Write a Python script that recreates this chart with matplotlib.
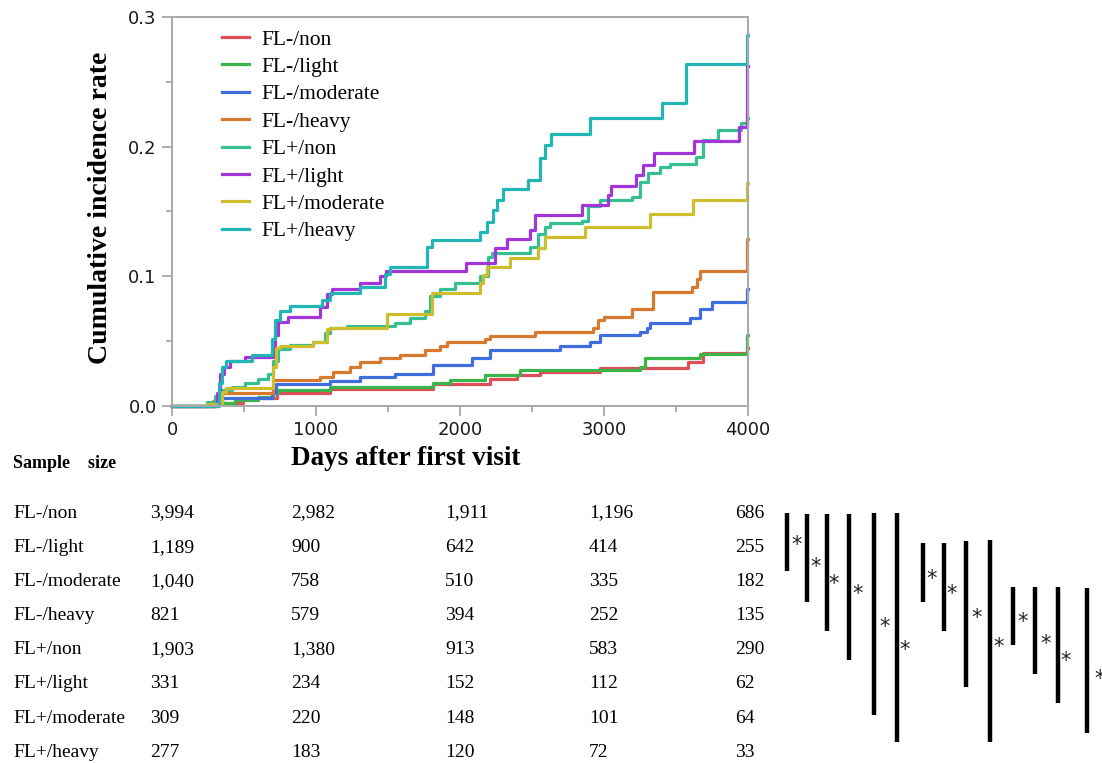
import matplotlib
matplotlib.use("Agg")
import matplotlib.pyplot as plt
from matplotlib.ticker import MultipleLocator, FormatStrFormatter

# groups (legend / table order)
groups = ["FL-/non", "FL-/light", "FL-/moderate", "FL-/heavy",
          "FL+/non", "FL+/light", "FL+/moderate", "FL+/heavy"]

# step curves: days where the curve steps, value after the step
fl_m_non_days = [0, 299, 493, 729, 1097, 1813, 2208, 2396, 2556, 2972, 3583, 3688, 3995]
fl_m_non_vals = [0, 0.002, 0.006, 0.010, 0.013, 0.017, 0.021, 0.024, 0.026, 0.029, 0.034, 0.041, 0.045]

fl_m_light_days = [0, 299, 438, 597, 701, 736, 1097, 1813, 1931, 2174, 2417, 3250, 3285, 3667, 3995]
fl_m_light_vals = [0, 0.002, 0.005, 0.007, 0.010, 0.012, 0.015, 0.018, 0.020, 0.024, 0.028, 0.030, 0.037, 0.040, 0.055]

fl_m_mod_days = [0, 299, 347, 694, 722, 1097, 1306, 1549, 1813, 2083, 2208, 2694, 2903, 2972,
                 3250, 3299, 3319, 3597, 3667, 3750, 3995]
fl_m_mod_vals = [0, 0.003, 0.006, 0.010, 0.017, 0.019, 0.022, 0.025, 0.032, 0.037, 0.043, 0.046, 0.049, 0.055,
                 0.057, 0.060, 0.064, 0.068, 0.075, 0.080, 0.090]

fl_m_heavy_days = [0, 285, 347, 701, 1028, 1118, 1236, 1306, 1444, 1583, 1757, 1861, 1910, 2174, 2208,
                   2521, 2924, 2958, 3000, 3194, 3340, 3611, 3646, 3667, 3995]
fl_m_heavy_vals = [0, 0.004, 0.010, 0.020, 0.022, 0.026, 0.030, 0.034, 0.037, 0.039, 0.043, 0.046, 0.049, 0.052, 0.054,
                   0.057, 0.060, 0.066, 0.069, 0.075, 0.088, 0.092, 0.098, 0.104, 0.129]

fl_p_non_days = [0, 243, 299, 347, 417, 507, 597, 667, 701, 736, 819, 979, 1063, 1097, 1215, 1549, 1653, 1757,
                 1792, 1861, 1965, 2139, 2194, 2222, 2486, 2542, 2590, 2625, 2847, 2889, 2972, 3194, 3250,
                 3306, 3389, 3458, 3639, 3688, 3792, 3951, 3990]
fl_p_non_vals = [0, 0.003, 0.008, 0.012, 0.015, 0.018, 0.021, 0.025, 0.035, 0.044, 0.047, 0.049, 0.056, 0.060,
                 0.062, 0.064, 0.068, 0.073, 0.085, 0.090, 0.095, 0.100, 0.115, 0.118, 0.123, 0.133, 0.138,
                 0.141, 0.143, 0.154, 0.159, 0.161, 0.173, 0.180, 0.184, 0.187, 0.192, 0.205, 0.213, 0.218, 0.222]

fl_p_light_days = [0, 312, 333, 361, 403, 507, 715, 736, 806, 1028, 1076, 1111, 1306, 1444, 1486, 2042, 2243,
                   2326, 2486, 2521, 2847, 3028, 3049, 3222, 3271, 3347, 3625, 3938, 3995]
fl_p_light_vals = [0, 0.010, 0.025, 0.030, 0.035, 0.038, 0.055, 0.065, 0.069, 0.076, 0.086, 0.090, 0.095, 0.100,
                   0.104, 0.110, 0.122, 0.129, 0.136, 0.147, 0.155, 0.163, 0.170, 0.178, 0.186, 0.195, 0.204,
                   0.215, 0.262]

fl_p_mod_days = [0, 243, 347, 375, 701, 722, 750, 979, 1076, 1104, 1493, 1806, 2139, 2160, 2188, 2347, 2542,
                 2590, 2868, 3319, 3618, 3995]
fl_p_mod_vals = [0, 0.0015, 0.011, 0.014, 0.030, 0.045, 0.046, 0.049, 0.059, 0.060, 0.071, 0.087, 0.095, 0.101,
                 0.107, 0.114, 0.122, 0.130, 0.138, 0.148, 0.159, 0.172]

fl_p_heavy_days = [0, 326, 347, 375, 556, 694, 715, 750, 819, 1042, 1097, 1306, 1479, 1514, 1771, 1806, 2139,
                   2188, 2229, 2257, 2299, 2472, 2556, 2590, 2632, 2903, 3403, 3569, 3995]
fl_p_heavy_vals = [0, 0.018, 0.030, 0.035, 0.039, 0.052, 0.066, 0.073, 0.077, 0.082, 0.087, 0.092, 0.102, 0.107,
                   0.123, 0.128, 0.134, 0.142, 0.151, 0.159, 0.167, 0.174, 0.191, 0.201, 0.210, 0.222, 0.234,
                   0.264, 0.286]

curves = [(fl_m_non_days, fl_m_non_vals), (fl_m_light_days, fl_m_light_vals),
          (fl_m_mod_days, fl_m_mod_vals), (fl_m_heavy_days, fl_m_heavy_vals),
          (fl_p_non_days, fl_p_non_vals), (fl_p_light_days, fl_p_light_vals),
          (fl_p_mod_days, fl_p_mod_vals), (fl_p_heavy_days, fl_p_heavy_vals)]

colors = ["#DD4F57", "#3BB44A", "#3F6FDE", "#D87A2E",
          "#34C093", "#A336DB", "#CCBE2C", "#22B5B5"]

# numbers at risk
risk_days = [0, 1000, 2000, 3000, 4000]
at_risk = [
    ["3,994", "2,982", "1,911", "1,196", "686"],
    ["1,189", "900", "642", "414", "255"],
    ["1,040", "758", "510", "335", "182"],
    ["821", "579", "394", "252", "135"],
    ["1,903", "1,380", "913", "583", "290"],
    ["331", "234", "152", "112", "62"],
    ["309", "220", "148", "101", "64"],
    ["277", "183", "120", "72", "33"],
]

W, H = 1102, 763
fig = plt.figure(figsize=(W / 100, H / 100), dpi=100)

ax = fig.add_axes([172 / W, (H - 406) / H, 576 / W, 389 / H])
for (d, v), name, c in zip(curves, groups, colors):
    ax.step(d + [4000], v + [v[-1]], where="post", color=c, lw=2.3, label=name, clip_on=False)

ax.set_xlim(0, 4000)
ax.set_ylim(0, 0.3)
ax.xaxis.set_major_locator(MultipleLocator(1000))
ax.xaxis.set_minor_locator(MultipleLocator(500))
ax.yaxis.set_major_locator(MultipleLocator(0.1))
ax.yaxis.set_minor_locator(MultipleLocator(0.05))
ax.yaxis.set_major_formatter(FormatStrFormatter("%.1f"))
for s in ax.spines.values():
    s.set_color("#A8A8A8")
    s.set_linewidth(1.4)
ax.tick_params(which="major", length=7, width=1.3, color="#A8A8A8", labelsize=13,
               labelcolor="#1a1a1a", pad=4)
ax.tick_params(which="minor", length=4, width=1.3, color="#A8A8A8")

serif = ["Liberation Serif", "DejaVu Serif"]
leg = ax.legend(loc="upper left", bbox_to_anchor=(0.071, 0.99), frameon=False,
                prop={"family": serif, "size": 15.5}, handlelength=1.3, handletextpad=0.55,
                labelspacing=0.34, borderaxespad=0)

fig.text(101 / W, 1 - 208 / H, "Cumulative incidence rate", rotation=90, ha="center", va="center",
         family=serif, fontsize=20, fontweight="bold")
fig.text(406 / W, 1 - 459 / H, "Days after first visit", ha="center", va="center",
         family=serif, fontsize=19.5, fontweight="bold")

# table of sample sizes
tab = fig.add_axes([0, 0, 1, 1])
tab.set_xlim(0, W)
tab.set_ylim(H, 0)
tab.axis("off")

tab.text(13, 463, "Sample    size", ha="left", va="center", family=serif, fontsize=13, fontweight="bold")
row_y0, row_gap = 513, 34.2
col_x = [150, 291, 445, 589, 735]
for i, name in enumerate(groups):
    y = row_y0 + i * row_gap
    tab.text(13, y, name, ha="left", va="center", family=serif, fontsize=14)
    for x, val in zip(col_x, at_risk[i]):
        tab.text(x, y, val, ha="left", va="center", family=serif, fontsize=14)

# significance brackets
bar_x = [787, 807, 827, 849, 874, 897, 923, 944, 966, 990, 1013, 1035, 1058, 1087]
bar_top = [513, 514, 514, 514, 513, 513, 543, 543, 541, 540, 587, 587, 587, 588]
bar_bot = [571, 602, 631, 660, 715, 742, 602, 631, 687, 742, 645, 674, 703, 733]
star_x = [797, 816, 834, 858, 885, 905, 932, 952, 977, 999, 1023, 1046, 1066, 1100]
star_y = [541, 563, 580, 590, 623, 646, 575, 590, 614, 643, 618, 640, 657, 675]
tab.vlines(bar_x, bar_top, bar_bot, color="black", lw=3.2)
for x, y in zip(star_x, star_y):
    tab.text(x, y + 4, "*", ha="center", va="center", fontsize=15, family="DejaVu Sans", color="#222222")

fig.savefig("out.png", dpi=100)
